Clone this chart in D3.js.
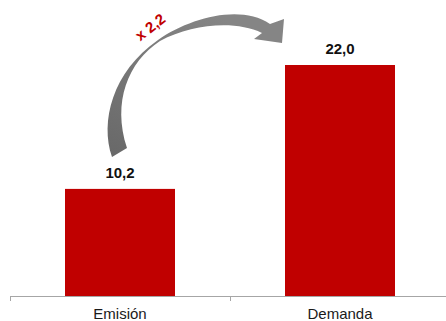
<!DOCTYPE html>
<html>
<head>
<meta charset="utf-8">
<script src="https://cdn.jsdelivr.net/npm/d3@7"></script>
<style>
  html, body { margin: 0; padding: 0; background: #fff; }
  svg { display: block; font-family: "Liberation Sans", Arial, sans-serif; }
</style>
</head>
<body>
<svg id="chart" width="446" height="321"></svg>
<script>
// Chart data
const categories = ["Emisión", "Demanda"];
const values = [10.2, 22.0];
const valueLabels = ["10,2", "22,0"];
const growthLabel = "x 2,2";

const W = 446, H = 321;
const svg = d3.select("#chart");

const x = d3.scaleBand()
  .domain(categories)
  .range([10, 450])
  .paddingInner(0.5)
  .paddingOuter(0.25);

const y = d3.scaleLinear()
  .domain([0, 24])
  .range([296, 44]);

// Bars
svg.selectAll("rect.bar")
  .data(values)
  .join("rect")
  .attr("class", "bar")
  .attr("x", (d, i) => x(categories[i]))
  .attr("y", d => y(d))
  .attr("width", x.bandwidth())
  .attr("height", d => y(0) - y(d))
  .attr("fill", "#c00000");

// Value labels
svg.selectAll("text.val")
  .data(values)
  .join("text")
  .attr("class", "val")
  .attr("x", (d, i) => x(categories[i]) + x.bandwidth() / 2)
  .attr("y", d => y(d) - 11)
  .attr("text-anchor", "middle")
  .attr("font-size", 15)
  .attr("font-weight", "bold")
  .attr("fill", "#111")
  .text((d, i) => valueLabels[i]);

// Category axis: line with ticks at band boundaries
const axisG = svg.append("g").attr("transform", `translate(0,${y(0)})`);
axisG.append("line")
  .attr("x1", x.range()[0]).attr("x2", x.range()[1])
  .attr("y1", 0.5).attr("y2", 0.5)
  .attr("stroke", "#a6a6a6");
const boundaries = categories.map(c => x(c) - x.step() * x.paddingInner() / 2 - (categories.indexOf(c) === 0 ? x.step() * (x.paddingOuter() - x.paddingInner() / 2) : 0));
boundaries.push(x.range()[1]);
axisG.selectAll("line.tick")
  .data(boundaries)
  .join("line")
  .attr("class", "tick")
  .attr("x1", d => Math.round(d) + 0.5).attr("x2", d => Math.round(d) + 0.5)
  .attr("y1", 0).attr("y2", 5)
  .attr("stroke", "#a6a6a6");
axisG.selectAll("text.cat")
  .data(categories)
  .join("text")
  .attr("class", "cat")
  .attr("x", d => x(d) + x.bandwidth() / 2)
  .attr("y", 23)
  .attr("text-anchor", "middle")
  .attr("font-size", 15)
  .attr("fill", "#1a1a1a")
  .text(d => d);

// Curved growth arrow from the first bar towards the second
const defs = svg.append("defs");
const grad = defs.append("linearGradient")
  .attr("id", "arrowGrad")
  .attr("x1", 0).attr("y1", 1).attr("x2", 0.6).attr("y2", 0);
grad.append("stop").attr("offset", "0%").attr("stop-color", "#686868");
grad.append("stop").attr("offset", "100%").attr("stop-color", "#858585");

svg.append("path")
  .attr("d", "M112,157 C100,122 112,72 158,40 C190,18 240,4 270,24 L284,19 L282,43 L254,39 L262,33 C235,20 192,24 160,41 C128,62 112,102 127,148 Z")
  .attr("fill", "url(#arrowGrad)");

svg.append("text")
  .attr("transform", "translate(151,28) rotate(-38)")
  .attr("text-anchor", "middle")
  .attr("dominant-baseline", "middle")
  .attr("font-size", 15)
  .attr("font-weight", "bold")
  .attr("fill", "#c00000")
  .text(growthLabel);
</script>
</body>
</html>
